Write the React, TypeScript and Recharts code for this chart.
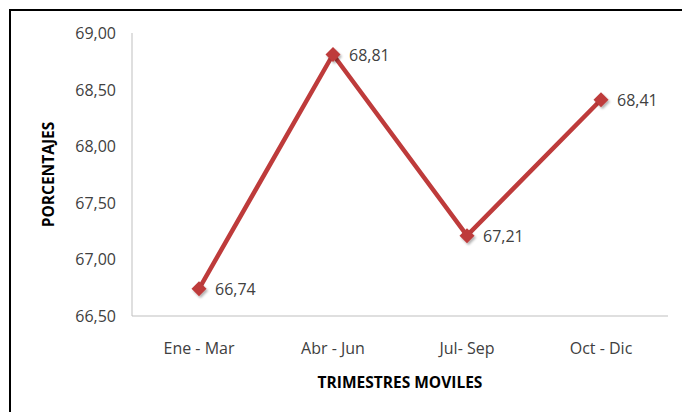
import React from "react";
import { LineChart, Line, XAxis, YAxis, LabelList } from "recharts";

const categories = ["Ene - Mar", "Abr - Jun", "Jul- Sep", "Oct - Dic"];
const values = [66.74, 68.81, 67.21, 68.41];
const yTicks = [66.5, 67, 67.5, 68, 68.5, 69];
const xTitle = "TRIMESTRES MOVILES";
const yTitle = "PORCENTAJES";

const data = categories.map((c, i) => ({ name: c, value: values[i] }));

const FONT = "'Open Sans', sans-serif";
const RED = "#BE3B3B";
const TXT = "#404040";
const fmt = (v: number) => v.toFixed(2).replace(".", ",");

const Diamond = (props: any) => {
  const { cx, cy } = props;
  if (cx == null || cy == null) return null;
  const s = 7.5;
  return (
    <path
      d={`M${cx},${cy - s} L${cx + s},${cy} L${cx},${cy + s} L${cx - s},${cy} Z`}
      fill={RED}
      filter="url(#shadow)"
    />
  );
};

const PointLabel = (props: any) => {
  const { x, y, value } = props;
  return (
    <text x={x + 16} y={y + 6} fill={TXT} fontSize={16} fontFamily={FONT}>
      {fmt(value)}
    </text>
  );
};

const XTick = (props: any) => {
  const { x, y, payload } = props;
  return (
    <text x={x} y={y + 30} textAnchor="middle" fill={TXT} fontSize={16} fontFamily={FONT}>
      {payload.value}
    </text>
  );
};

const YTick = (props: any) => {
  const { y, payload } = props;
  return (
    <text x={116} y={y + 6} textAnchor="end" fill={TXT} fontSize={16} fontFamily={FONT}>
      {fmt(payload.value)}
    </text>
  );
};

export default function App() {
  return (
    <div style={{ position: "absolute", left: 0, top: 0, width: 682, height: 412, overflow: "hidden", background: "#fff" }}>
      <div
        style={{
          position: "absolute",
          left: 9,
          top: 9,
          width: 700,
          height: 420,
          border: "2px solid #000",
          boxShadow: "1px 1px 0 #888",
        }}
      />
      <div style={{ position: "absolute", left: 0, top: 0 }}>
        <LineChart width={682} height={412} data={data} margin={{ top: 33, right: 14, bottom: 0, left: 0 }}>
          <defs>
            <filter id="shadow" x="-50%" y="-50%" width="200%" height="200%">
              <feDropShadow dx="1.5" dy="2" stdDeviation="1.2" floodColor="#000" floodOpacity="0.3" />
            </filter>
          </defs>
          <XAxis
            dataKey="name"
            height={96}
            padding={{ left: 67, right: 67 }}
            axisLine={{ stroke: "#BFBFBF", strokeWidth: 1 }}
            tickLine={false}
            tick={<XTick />}
            interval={0}
            label={{
              content: (p: any) => (
                <text
                  x={p.viewBox.x + p.viewBox.width / 2}
                  y={388}
                  textAnchor="middle"
                  fontWeight="bold"
                  fill="#000"
                  fontSize={15.5}
                  fontFamily={FONT}
                >
                  {xTitle}
                </text>
              ),
            }}
          />
          <YAxis
            width={132}
            domain={[66.5, 69]}
            ticks={yTicks}
            interval={0}
            axisLine={{ stroke: "#BFBFBF", strokeWidth: 1 }}
            tickLine={false}
            tick={<YTick />}
            label={{
              content: (p: any) => {
                const cy = p.viewBox.y + p.viewBox.height / 2;
                return (
                  <text
                    x={54}
                    y={cy}
                    transform={`rotate(-90, 54, ${cy})`}
                    textAnchor="middle"
                    fontWeight="bold"
                    fill="#000"
                    fontSize={15.5}
                    fontFamily={FONT}
                  >
                    {yTitle}
                  </text>
                );
              },
            }}
          />
          <Line
            type="linear"
            dataKey="value"
            stroke={RED}
            strokeWidth={4.5}
            dot={<Diamond />}
            activeDot={false}
            isAnimationActive={false}
          >
            <LabelList dataKey="value" content={<PointLabel />} />
          </Line>
        </LineChart>
      </div>
    </div>
  );
}
